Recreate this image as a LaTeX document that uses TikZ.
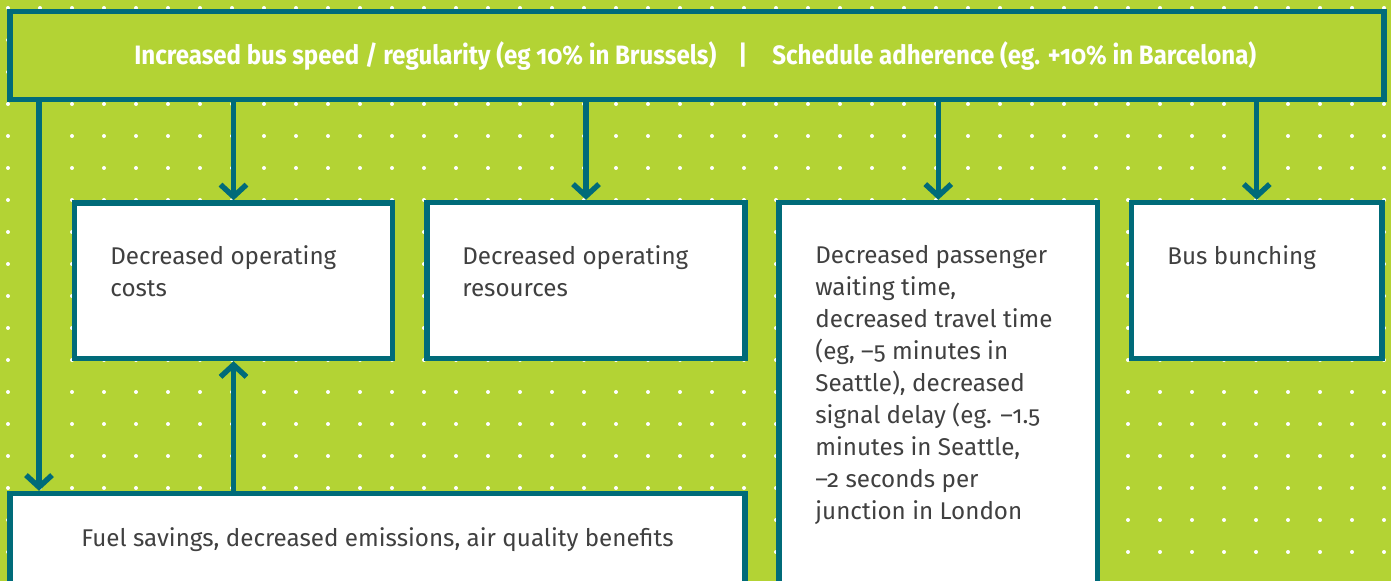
\documentclass[tikz,border=0pt]{standalone}
\usepackage{fontspec}
\setmainfont{Fira Sans}[RawFeature={+onum}]
\newfontfamily\headfont{Fira Sans}[RawFeature={+onum}, FakeStretch=0.905]
\usetikzlibrary{arrows.meta}
\definecolor{bggreen}{HTML}{B3D334}
\definecolor{tealline}{HTML}{006B79}
\definecolor{bodygray}{HTML}{404040}
\begin{document}
\begin{tikzpicture}[x=0.5pt,y=-0.5pt,
  box/.style={draw=tealline, line width=2.7pt, fill=white, anchor=north west, inner sep=0pt},
  arr/.style={draw=tealline, line width=2.7pt, -{Straight Barb[length=6pt,width=13pt]}},
  headtxt/.style={text=white, inner sep=0pt, font=\headfont\bfseries\fontsize{13.3}{16}\selectfont},
  bodytxt/.style={text=bodygray, inner sep=0pt, anchor=base west, font=\fontsize{12.1}{16}\selectfont}
]
\useasboundingbox (0,0) rectangle (1391,581);
\clip (0,0) rectangle (1391,581);
\fill[bggreen] (0,0) rectangle (1391,581);
\foreach \i in {0,...,43} {\foreach \j in {0,...,18} {\fill[white] (8+32*\i,8+32*\j) circle (1pt);}}
% boxes
\node[box, fill=bggreen, minimum width=687pt, minimum height=44pt] (top) at (7.3,8.8) {};
\node[box, minimum width=159pt, minimum height=77.75pt] (box1) at (71.8,200.3) {};
\node[box, minimum width=159pt, minimum height=78pt] (box2) at (424.3,199.8) {};
\node[box, minimum width=159.25pt, minimum height=210pt] (box3) at (776.3,199.8) {};
\node[box, minimum width=125.25pt, minimum height=78pt] (box4) at (1128.8,199.8) {};
\node[box, minimum width=367.5pt, minimum height=60pt] (fuel) at (7.3,490.8) {};
% header text
\node[headtxt, anchor=base west] (h1) at (134,65) {Increased bus speed / regularity (eg 10\% in Brussels)};
\node[headtxt, anchor=base] (hbar) at (743,65) {|};
\node[headtxt, anchor=base west] (h2) at (772,65) {Schedule adherence (eg. +10\% in Barcelona)};
% body text
\node[bodytxt] (t1) at (110,265) {\parbox[t]{160pt}{\raggedright Decreased operating\\costs}};
\node[bodytxt] (t2) at (462,265) {\parbox[t]{160pt}{\raggedright Decreased operating\\resources}};
\node[bodytxt] (t3) at (815,264) {\parbox[t]{140pt}{\raggedright Decreased passenger\\waiting time,\\decreased travel time\\(eg, –5 minutes in\\Seattle), decreased\\signal delay (eg. –1.5\\minutes in Seattle,\\–2 seconds per\\junction in London}};
\node[bodytxt] (t4) at (1167,265) {Bus bunching};
\node[bodytxt] (t5) at (81,547) {Fuel savings, decreased emissions, air quality benefits};
% connectors
\coordinate (lx) at (39,0);
\draw[arr] (top.south -| lx) -- (fuel.north -| lx);
\draw[arr] (top.south -| box1.north) -- (box1.north);
\draw[arr] (top.south -| box2.north) -- (box2.north);
\draw[arr] (top.south -| box3.north) -- (box3.north);
\draw[arr] (top.south -| box4.north) -- (box4.north);
\draw[arr] (fuel.north -| box1.south) -- (box1.south);
\end{tikzpicture}
\end{document}
